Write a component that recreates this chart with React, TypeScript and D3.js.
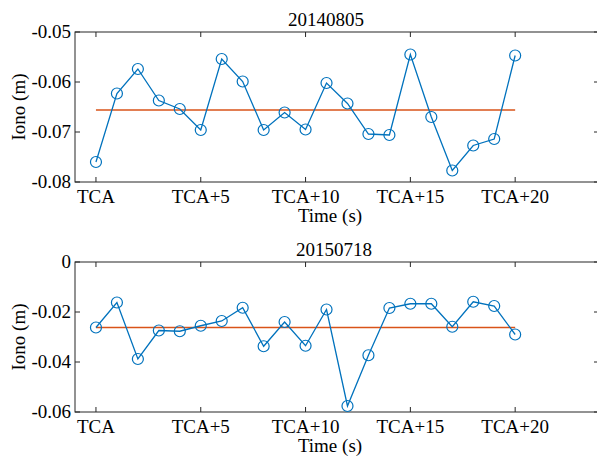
import React, { useEffect, useRef } from 'react';
import * as d3 from 'd3';

// values
const seconds = d3.range(0, 21);
const iono_20140805 = [-0.0760, -0.0623, -0.0574, -0.0637, -0.0654, -0.0696, -0.0554, -0.0599, -0.0696, -0.0661, -0.0695,
  -0.0602, -0.0643, -0.0704, -0.0706, -0.0545, -0.0670, -0.0777, -0.0727, -0.0714, -0.0547];
const mean_20140805 = -0.0656;
const iono_20150718 = [-0.0262, -0.0162, -0.0388, -0.0274, -0.0277, -0.0255, -0.0236, -0.0183, -0.0337, -0.0240, -0.0335,
  -0.0190, -0.0576, -0.0373, -0.0184, -0.0167, -0.0167, -0.0259, -0.0159, -0.0176, -0.0290];
const mean_20150718 = -0.0262;
const x_ticks = [0, 5, 10, 15, 20];
const x_tick_labels = ['TCA', 'TCA+5', 'TCA+10', 'TCA+15', 'TCA+20'];
const y_ticks_top = [-0.08, -0.07, -0.06, -0.05];
const y_ticks_bottom = [-0.06, -0.04, -0.02, 0];

const panels = [
  { title: '20140805', values: iono_20140805, mean: mean_20140805, domain: [-0.08, -0.05], ticks: y_ticks_top, top: 32, title_x: 326, fmt: (d: number) => d.toFixed(2) },
  { title: '20150718', values: iono_20150718, mean: mean_20150718, domain: [-0.06, 0], ticks: y_ticks_bottom, top: 262, title_x: 334, fmt: (d: number) => (d === 0 ? '0' : d.toFixed(2)) },
];

export default function App() {
  const ref = useRef<SVGSVGElement>(null);

  useEffect(() => {
    const svg = d3.select(ref.current);
    svg.selectAll('*').remove();

    const font = '"Liberation Serif", "Times New Roman", serif';
    const axis_color = '#262626';
    const blue = '#0072BD';
    const orange = '#D95319';
    const left = 75;
    const right = 599;
    const plot_h = 150;
    const tick_len = 5;

    const x = d3.scaleLinear().domain([-1, 24]).range([left, right]);

    panels.forEach((p) => {
      const y = d3.scaleLinear().domain(p.domain).range([p.top + plot_h, p.top]);
      const g = svg.append('g');

      // box
      g.append('rect')
        .attr('x', left).attr('y', p.top)
        .attr('width', right - left).attr('height', plot_h)
        .attr('fill', 'none').attr('stroke', axis_color).attr('stroke-width', 1);

      // x ticks (bottom and top, inward)
      x_ticks.forEach((t, i) => {
        const xx = x(t);
        g.append('line').attr('x1', xx).attr('x2', xx)
          .attr('y1', p.top + plot_h).attr('y2', p.top + plot_h - tick_len)
          .attr('stroke', axis_color);
        g.append('line').attr('x1', xx).attr('x2', xx)
          .attr('y1', p.top).attr('y2', p.top + tick_len)
          .attr('stroke', axis_color);
        g.append('text').attr('x', xx).attr('y', p.top + plot_h + 21)
          .attr('text-anchor', 'middle').attr('font-family', font).attr('font-size', 19)
          .attr('fill', '#000').text(x_tick_labels[i]);
      });

      // y ticks (left and right, inward)
      p.ticks.forEach((t) => {
        const yy = y(t);
        g.append('line').attr('x1', left).attr('x2', left + tick_len)
          .attr('y1', yy).attr('y2', yy).attr('stroke', axis_color);
        g.append('line').attr('x1', right).attr('x2', right - tick_len)
          .attr('y1', yy).attr('y2', yy).attr('stroke', axis_color);
        g.append('text').attr('x', left - 4).attr('y', yy).attr('dy', '0.33em')
          .attr('text-anchor', 'end').attr('font-family', font).attr('font-size', 19)
          .attr('fill', '#000').text(p.fmt(t));
      });

      // labels
      g.append('text').attr('x', p.title_x).attr('y', p.top - 6)
        .attr('text-anchor', 'middle').attr('font-family', font).attr('font-size', 19)
        .attr('fill', '#000').text(p.title);
      g.append('text').attr('x', 330).attr('y', p.top + plot_h + 40)
        .attr('text-anchor', 'middle').attr('font-family', font).attr('font-size', 19)
        .attr('fill', '#000').text('Time (s)');
      g.append('text')
        .attr('transform', `translate(25,${p.top + plot_h / 2}) rotate(-90)`)
        .attr('text-anchor', 'middle').attr('font-family', font).attr('font-size', 19)
        .attr('fill', '#000').text('Iono (m)');

      // mean line
      g.append('line')
        .attr('x1', x(seconds[0])).attr('x2', x(seconds[seconds.length - 1]))
        .attr('y1', y(p.mean)).attr('y2', y(p.mean))
        .attr('stroke', orange).attr('stroke-width', 1.5);

      // series
      const line = d3.line<number>().x((_, i) => x(seconds[i])).y((d) => y(d));
      g.append('path').datum(p.values)
        .attr('d', line).attr('fill', 'none')
        .attr('stroke', blue).attr('stroke-width', 1.3);
      g.selectAll('circle.m').data(p.values).enter().append('circle')
        .attr('cx', (_, i) => x(seconds[i])).attr('cy', (d) => y(d))
        .attr('r', 5.5).attr('fill', 'none')
        .attr('stroke', blue).attr('stroke-width', 1.2);
    });
  }, []);

  return (
    <svg ref={ref} width={597} height={459}
      style={{ position: 'absolute', left: 0, top: 0, background: '#fff' }} />
  );
}
